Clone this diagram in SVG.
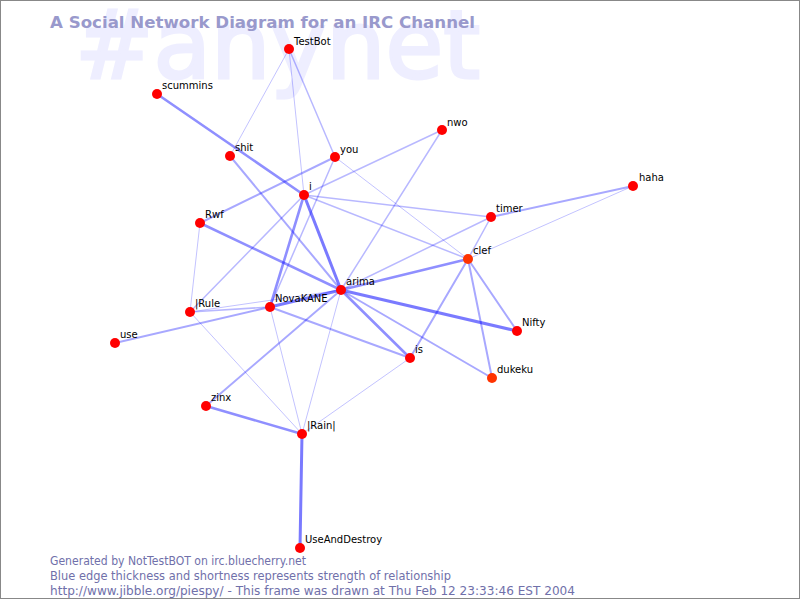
<svg xmlns="http://www.w3.org/2000/svg" width="800" height="600" viewBox="0 0 800 600">
<style>
.bg{fill:#ffffff}
.wm{font-family:"DejaVu Sans",sans-serif;font-size:94px;fill:#eeeeff;stroke:#eeeeff;stroke-width:3}
.title{font-family:"DejaVu Sans",sans-serif;font-size:16px;font-weight:bold;fill:#9999cc}
.foot{font-family:"DejaVu Sans",sans-serif;font-size:11.5px;fill:#7070aa}
.lbl{font-family:"DejaVu Sans",sans-serif;font-size:10px;fill:#000000}
.node{fill:#ff0000}
.node2{fill:#ff3300}
line{stroke:#0000ff;stroke-linecap:round}
.e1{stroke-width:1;stroke-opacity:0.24}
.e2{stroke-width:1.5;stroke-opacity:0.28}
.e3{stroke-width:2;stroke-opacity:0.34}
.e4{stroke-width:2.6;stroke-opacity:0.44}
.e5{stroke-width:3;stroke-opacity:0.52}
</style>
<rect class="bg" x="0" y="0" width="800" height="600"/>
<rect x="0.5" y="0.5" width="799" height="598" fill="none" stroke="#888888" stroke-width="1"/>
<text class="wm" x="75" y="78" textLength="405" lengthAdjust="spacingAndGlyphs">#anynet</text>
<text class="title" x="50" y="28" textLength="425" lengthAdjust="spacingAndGlyphs">A Social Network Diagram for an IRC Channel</text>
<g id="connectors">
<line class="e1" x1="289" y1="49" x2="230" y2="156"/>
<line class="e1" x1="289" y1="49" x2="304" y2="195"/>
<line class="e2" x1="289" y1="49" x2="335" y2="157"/>
<line class="e4" x1="157" y1="94" x2="304" y2="195"/>
<line class="e3" x1="230" y1="156" x2="341" y2="290"/>
<line class="e3" x1="335" y1="157" x2="200" y2="223"/>
<line class="e2" x1="335" y1="157" x2="270" y2="307"/>
<line class="e1" x1="335" y1="157" x2="468" y2="259"/>
<line class="e2" x1="442" y1="130" x2="304" y2="195"/>
<line class="e2" x1="442" y1="130" x2="341" y2="290"/>
<line class="e3" x1="633" y1="186" x2="491" y2="217"/>
<line class="e1" x1="633" y1="186" x2="468" y2="259"/>
<line class="e2" x1="304" y1="195" x2="491" y2="217"/>
<line class="e2" x1="304" y1="195" x2="468" y2="259"/>
<line class="e5" x1="304" y1="195" x2="341" y2="290"/>
<line class="e4" x1="304" y1="195" x2="270" y2="307"/>
<line class="e2" x1="304" y1="195" x2="190" y2="312"/>
<line class="e4" x1="200" y1="223" x2="341" y2="290"/>
<line class="e1" x1="200" y1="223" x2="190" y2="312"/>
<line class="e2" x1="491" y1="217" x2="468" y2="259"/>
<line class="e2" x1="491" y1="217" x2="341" y2="290"/>
<line class="e4" x1="468" y1="259" x2="341" y2="290"/>
<line class="e3" x1="468" y1="259" x2="517" y2="331"/>
<line class="e3" x1="468" y1="259" x2="492" y2="378"/>
<line class="e3" x1="468" y1="259" x2="410" y2="358"/>
<line class="e5" x1="341" y1="290" x2="517" y2="331"/>
<line class="e4" x1="341" y1="290" x2="410" y2="358"/>
<line class="e3" x1="341" y1="290" x2="492" y2="378"/>
<line class="e5" x1="341" y1="290" x2="270" y2="307"/>
<line class="e3" x1="341" y1="290" x2="206" y2="406"/>
<line class="e1" x1="341" y1="290" x2="302" y2="434"/>
<line class="e2" x1="190" y1="312" x2="270" y2="307"/>
<line class="e1" x1="190" y1="312" x2="341" y2="290"/>
<line class="e1" x1="190" y1="312" x2="302" y2="434"/>
<line class="e3" x1="270" y1="307" x2="410" y2="358"/>
<line class="e1" x1="270" y1="307" x2="302" y2="434"/>
<line class="e3" x1="270" y1="307" x2="115" y2="343"/>
<line class="e4" x1="206" y1="406" x2="302" y2="434"/>
<line class="e5" x1="302" y1="434" x2="300" y2="548"/>
<line class="e1" x1="302" y1="434" x2="410" y2="358"/>
</g>
<g id="n-TestBot"><circle class="node" cx="289" cy="49" r="5"/><text class="lbl" x="294" y="45">TestBot</text></g>
<g id="n-scummins"><circle class="node" cx="157" cy="94" r="5"/><text class="lbl" x="162" y="89">scummins</text></g>
<g id="n-shit"><circle class="node" cx="230" cy="156" r="5"/><text class="lbl" x="235" y="151">shit</text></g>
<g id="n-you"><circle class="node" cx="335" cy="157" r="5"/><text class="lbl" x="340" y="153">you</text></g>
<g id="n-nwo"><circle class="node" cx="442" cy="130" r="5"/><text class="lbl" x="447" y="126">nwo</text></g>
<g id="n-haha"><circle class="node" cx="633" cy="186" r="5"/><text class="lbl" x="639" y="181">haha</text></g>
<g id="n-i"><circle class="node" cx="304" cy="195" r="5"/><text class="lbl" x="309" y="190">i</text></g>
<g id="n-timer"><circle class="node" cx="491" cy="217" r="5"/><text class="lbl" x="496" y="212">timer</text></g>
<g id="n-Rwf"><circle class="node" cx="200" cy="223" r="5"/><text class="lbl" x="205" y="218">Rwf</text></g>
<g id="n-clef"><circle class="node2" cx="468" cy="259" r="5"/><text class="lbl" x="473" y="254">clef</text></g>
<g id="n-arima"><circle class="node" cx="341" cy="290" r="5"/><text class="lbl" x="346" y="285">arima</text></g>
<g id="n-NovaKANE"><circle class="node" cx="270" cy="307" r="5"/><text class="lbl" x="275" y="302">NovaKANE</text></g>
<g id="n-Rule"><circle class="node" cx="190" cy="312" r="5"/><text class="lbl" x="195" y="307">|Rule</text></g>
<g id="n-Nifty"><circle class="node" cx="517" cy="331" r="5"/><text class="lbl" x="522" y="326">Nifty</text></g>
<g id="n-use"><circle class="node" cx="115" cy="343" r="5"/><text class="lbl" x="120" y="338">use</text></g>
<g id="n-is"><circle class="node" cx="410" cy="358" r="5"/><text class="lbl" x="415" y="353">is</text></g>
<g id="n-dukeku"><circle class="node2" cx="492" cy="378" r="5"/><text class="lbl" x="497" y="373">dukeku</text></g>
<g id="n-zinx"><circle class="node" cx="206" cy="406" r="5"/><text class="lbl" x="211" y="401">zinx</text></g>
<g id="n-Rain"><circle class="node" cx="302" cy="434" r="5"/><text class="lbl" x="307" y="429">|Rain|</text></g>
<g id="n-UseAndDestroy"><circle class="node" cx="300" cy="548" r="5"/><text class="lbl" x="305" y="543">UseAndDestroy</text></g>
<text class="foot" x="50" y="565" textLength="256" lengthAdjust="spacingAndGlyphs">Generated by NotTestBOT on irc.bluecherry.net</text>
<text class="foot" x="50" y="580" textLength="401" lengthAdjust="spacingAndGlyphs">Blue edge thickness and shortness represents strength of relationship</text>
<text class="foot" x="50" y="595" textLength="525" lengthAdjust="spacingAndGlyphs">http://www.jibble.org/piespy/ - This frame was drawn at Thu Feb 12 23:33:46 EST 2004</text>
</svg>
